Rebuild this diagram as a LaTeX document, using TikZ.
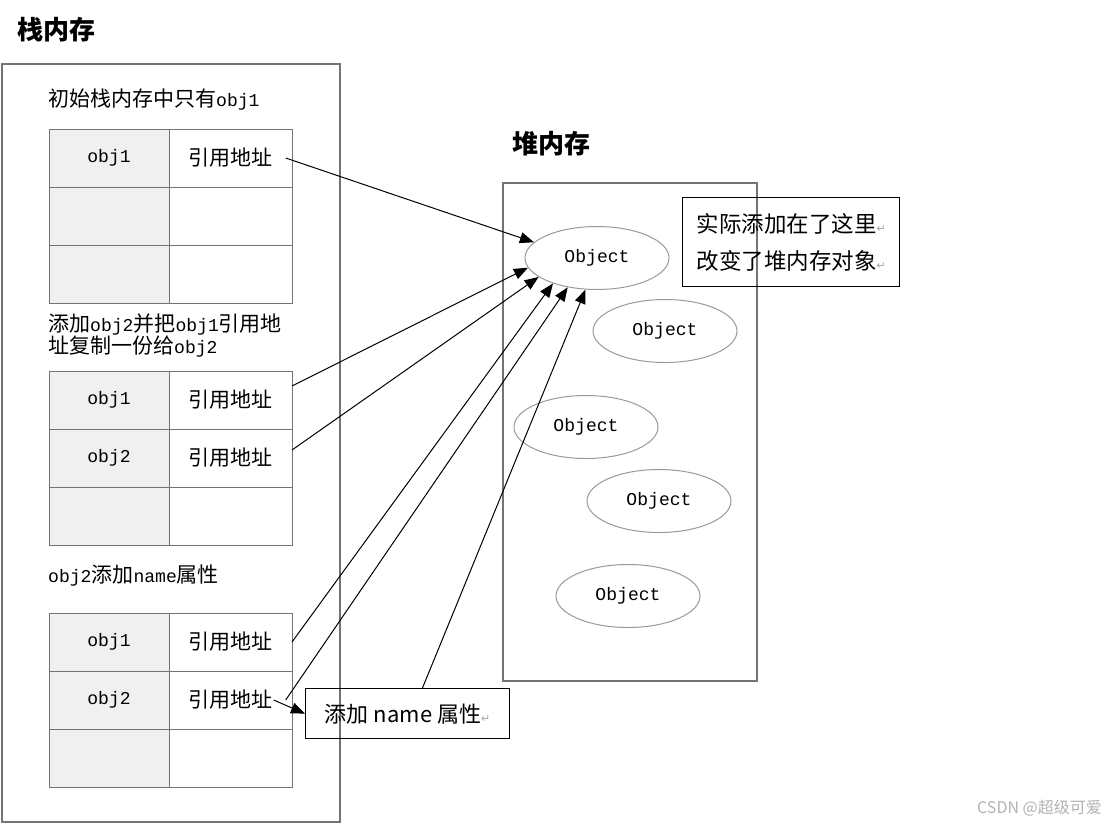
\documentclass[tikz,border=0pt]{standalone}
\usepackage{fontspec}
\setmainfont{Noto Sans CJK SC}
\setmonofont[Scale=0.86]{Liberation Mono}
\newfontfamily\retfont{DejaVu Sans}
\usepackage{tikz}
\usetikzlibrary{positioning,arrows.meta,shapes.geometric}

\newcommand{\ret}{{\retfont\color{gray!70}\fontsize{11}{11}\selectfont ↵}}

\begin{document}
\begin{tikzpicture}[
  x=1pt, y=-1pt,
  font=\fontsize{21}{22}\selectfont,
  frame/.style={draw=gray!90!black, line width=1.3pt},
  lcell/.style={draw=gray!90!black, line width=1pt, fill=gray!12, minimum width=120pt,
                minimum height=58pt, outer sep=0pt, inner sep=0pt, anchor=north west},
  rcell/.style={lcell, fill=white, minimum width=123pt},
  txt/.style={inner sep=1pt},
  lbl/.style={anchor=west, inner sep=0pt, align=left},
  title/.style={anchor=west, inner sep=0pt, font=\fontsize{26}{26}\selectfont\bfseries},
  obj/.style={ellipse, draw=gray!80, line width=1pt, minimum width=144pt, minimum height=63pt,
              inner sep=0pt, font=\fontsize{21}{21}\selectfont\ttfamily},
  note/.style={draw, line width=1.3pt, align=left, anchor=north west, inner sep=0pt},
  arr/.style={-{Triangle[length=14pt,width=11pt]}, line width=1pt},
]
\useasboundingbox (0,0) rectangle (1118,828);

% stack side
\node[title] (stk) at (17,30) {栈内存};
\draw[frame] (2,64) rectangle (340,822);
\node[lbl] (cap1) at (48,100) {初始栈内存中只有\texttt{obj1}};
\node[lbl] (cap2) at (48,336) {添加\texttt{obj2}并把\texttt{obj1}引用地\\址复制一份给\texttt{obj2}};
\node[lbl] (cap3) at (48,576) {\texttt{obj2}添加\texttt{name}属性};
\foreach \tb/\ty in {1/129, 2/371, 3/613}
  \foreach \rw in {1,2,3} {
    \node[lcell] (t\tb l\rw) at (49, {\ty+58*(\rw-1)}) {};
    \node[rcell, right=0pt of t\tb l\rw] (t\tb r\rw) {};
  }
\node[txt] (o11) at (t1l1) {\texttt{obj1}};
\node[txt] (r11) at (t1r1) {引用地址};
\node[txt] (o21) at (t2l1) {\texttt{obj1}};
\node[txt] (r21) at (t2r1) {引用地址};
\node[txt] (o22) at (t2l2) {\texttt{obj2}};
\node[txt] (r22) at (t2r2) {引用地址};
\node[txt] (o31) at (t3l1) {\texttt{obj1}};
\node[txt] (r31) at (t3r1) {引用地址};
\node[txt] (o32) at (t3l2) {\texttt{obj2}};
\node[txt] (r32) at (t3r2) {引用地址};

% heap side
\node[title] (heap) at (512,144) {堆内存};
\draw[frame] (503,183) rectangle (757,681);
\node[obj] (obj1) at (597,258) {Object};
\node[obj] (obj2) at (665,331) {Object};
\node[obj] (obj3) at (586,427) {Object};
\node[obj] (obj4) at (659,501) {Object};
\node[obj] (obj5) at (628,596) {Object};
\node[note, minimum width=217pt, minimum height=89pt, font=\fontsize{22.5}{37}\selectfont]
  (note1) at (682,197) {实际添加在了这里\ret\\改变了堆内存对象\ret};
\node[note, minimum width=204pt, minimum height=50pt, font=\fontsize{22}{22}\selectfont]
  (note2) at (305,688) {添加 name 属性\ret};

\draw[arr] ([xshift=12pt]r11.east) -- (obj1.166);
\draw[arr] ([yshift=14pt]t2r1.east) -- (obj1.188);
\draw[arr] ([yshift=8pt]t2r2.east) -- (obj1.198);
\draw[arr] (t3r1.east) -- (obj1.210);
\draw[arr] ([xshift=12pt]r32.east) -- (obj1.225);
\draw[arr] (note2.60) -- (obj1.250);
\draw[arr] (r32.east) -- (note2.west);

\node[anchor=east, inner sep=0pt, text=gray!60, font=\fontsize{16}{16}\selectfont]
  (wm) at (1102,808) {CSDN @超级可爱};
\end{tikzpicture}
\end{document}
